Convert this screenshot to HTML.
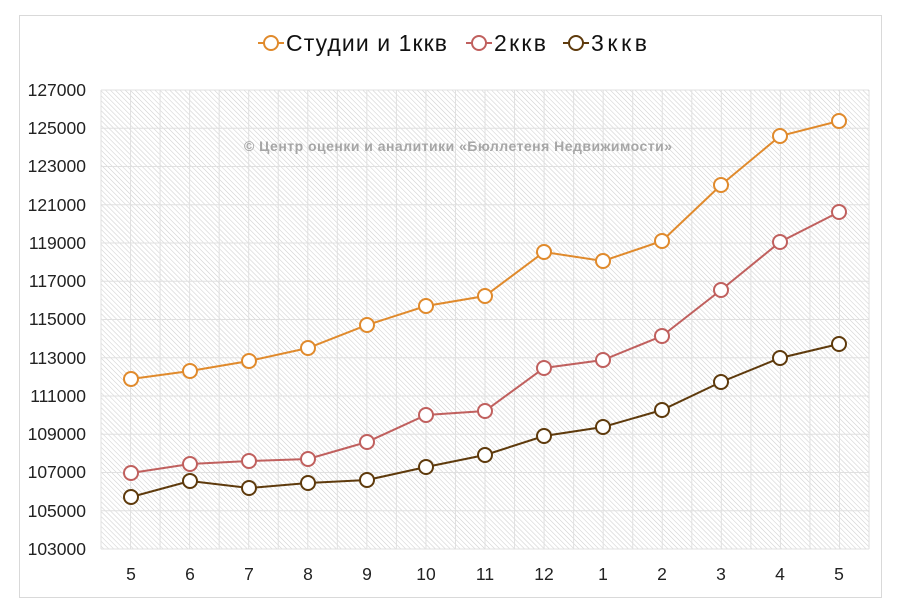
<!DOCTYPE html>
<html><head><meta charset="utf-8"><style>
body{margin:0;background:#fff;width:900px;height:611px;overflow:hidden;font-family:"Liberation Sans",sans-serif}
</style></head><body>
<svg width="900" height="611" xmlns="http://www.w3.org/2000/svg" font-family="Liberation Sans, sans-serif">
<defs>
<pattern id="h" width="3.5" height="3.5" patternUnits="userSpaceOnUse" patternTransform="rotate(-45)">
<rect width="3.5" height="3.5" fill="#fff"/><line x1="0" y1="0" x2="0" y2="3.5" stroke="#cfcfcf" stroke-width="1.1"/>
</pattern>
</defs>
<rect x="19.5" y="15.5" width="862" height="582" fill="#fff" stroke="#d9d9d9"/>
<rect x="101" y="90" width="768" height="459" fill="url(#h)"/>
<g stroke="#e0e0e0" stroke-width="1">
<line x1="101" y1="90" x2="869" y2="90"/><line x1="101" y1="128.25" x2="869" y2="128.25"/><line x1="101" y1="166.5" x2="869" y2="166.5"/><line x1="101" y1="204.75" x2="869" y2="204.75"/><line x1="101" y1="243" x2="869" y2="243"/><line x1="101" y1="281.25" x2="869" y2="281.25"/><line x1="101" y1="319.5" x2="869" y2="319.5"/><line x1="101" y1="357.75" x2="869" y2="357.75"/><line x1="101" y1="396" x2="869" y2="396"/><line x1="101" y1="434.25" x2="869" y2="434.25"/><line x1="101" y1="472.5" x2="869" y2="472.5"/><line x1="101" y1="510.75" x2="869" y2="510.75"/><line x1="101" y1="549" x2="869" y2="549"/>
</g>
<g stroke="#e0e0e0" id="v"></g>
<script>
var g=document.getElementById('v');for(var i=0;i<=26;i++){var x=101+i*29.54;var l=document.createElementNS('http://www.w3.org/2000/svg','line');l.setAttribute('x1',x);l.setAttribute('x2',x);l.setAttribute('y1',90);l.setAttribute('y2',549);g.appendChild(l);}
</script>
<text x="458" y="151" text-anchor="middle" font-size="14" font-weight="bold" fill="#a6a6a6" textLength="428">© Центр оценки и аналитики «Бюллетеня Недвижимости»</text>
<g font-size="17.5" fill="#222" text-anchor="end">
<text x="86" y="96">127000</text><text x="86" y="134">125000</text><text x="86" y="172">123000</text><text x="86" y="211">121000</text><text x="86" y="249">119000</text><text x="86" y="287">117000</text><text x="86" y="325">115000</text><text x="86" y="364">113000</text><text x="86" y="402">111000</text><text x="86" y="440">109000</text><text x="86" y="478">107000</text><text x="86" y="517">105000</text><text x="86" y="555">103000</text>
</g>
<g font-size="17.5" fill="#222" text-anchor="middle">
<text x="131" y="580">5</text><text x="190" y="580">6</text><text x="249" y="580">7</text><text x="308" y="580">8</text><text x="367" y="580">9</text><text x="426" y="580">10</text><text x="485" y="580">11</text><text x="544" y="580">12</text><text x="603" y="580">1</text><text x="662" y="580">2</text><text x="721" y="580">3</text><text x="780" y="580">4</text><text x="839" y="580">5</text>
</g>
<g fill="#fff" stroke-width="2">
<polyline fill="none" stroke="#e08a2c" points="131,379 190,371 249,361 308,348 367,325 426,306 485,296 544,252 603,261 662,241 721,185 780,136 839,121"/>
<g stroke="#e08a2c"><circle cx="131" cy="379" r="7"/><circle cx="190" cy="371" r="7"/><circle cx="249" cy="361" r="7"/><circle cx="308" cy="348" r="7"/><circle cx="367" cy="325" r="7"/><circle cx="426" cy="306" r="7"/><circle cx="485" cy="296" r="7"/><circle cx="544" cy="252" r="7"/><circle cx="603" cy="261" r="7"/><circle cx="662" cy="241" r="7"/><circle cx="721" cy="185" r="7"/><circle cx="780" cy="136" r="7"/><circle cx="839" cy="121" r="7"/></g>
<polyline fill="none" stroke="#c0605e" points="131,473 190,464 249,461 308,459 367,442 426,415 485,411 544,368 603,360 662,336 721,290 780,242 839,212"/>
<g stroke="#c0605e"><circle cx="131" cy="473" r="7"/><circle cx="190" cy="464" r="7"/><circle cx="249" cy="461" r="7"/><circle cx="308" cy="459" r="7"/><circle cx="367" cy="442" r="7"/><circle cx="426" cy="415" r="7"/><circle cx="485" cy="411" r="7"/><circle cx="544" cy="368" r="7"/><circle cx="603" cy="360" r="7"/><circle cx="662" cy="336" r="7"/><circle cx="721" cy="290" r="7"/><circle cx="780" cy="242" r="7"/><circle cx="839" cy="212" r="7"/></g>
<polyline fill="none" stroke="#5e3a0c" points="131,497 190,481 249,488 308,483 367,480 426,467 485,455 544,436 603,427 662,410 721,382 780,358 839,344"/>
<g stroke="#5e3a0c"><circle cx="131" cy="497" r="7"/><circle cx="190" cy="481" r="7"/><circle cx="249" cy="488" r="7"/><circle cx="308" cy="483" r="7"/><circle cx="367" cy="480" r="7"/><circle cx="426" cy="467" r="7"/><circle cx="485" cy="455" r="7"/><circle cx="544" cy="436" r="7"/><circle cx="603" cy="427" r="7"/><circle cx="662" cy="410" r="7"/><circle cx="721" cy="382" r="7"/><circle cx="780" cy="358" r="7"/><circle cx="839" cy="344" r="7"/></g>
<line x1="258" y1="43" x2="284" y2="43" stroke="#e08a2c"/><circle cx="271" cy="43" r="7" stroke="#e08a2c"/>
<line x1="466" y1="43" x2="492" y2="43" stroke="#c0605e"/><circle cx="479" cy="43" r="7" stroke="#c0605e"/>
<line x1="563" y1="43" x2="589" y2="43" stroke="#5e3a0c"/><circle cx="576" cy="43" r="7" stroke="#5e3a0c"/>
</g>
<g font-size="23" fill="#111">
<text x="286" y="51" textLength="161">Студии и 1ккв</text><text x="494" y="51" textLength="52">2ккв</text><text x="591" y="51" textLength="56">3ккв</text>
</g>
</svg>
</body></html>
